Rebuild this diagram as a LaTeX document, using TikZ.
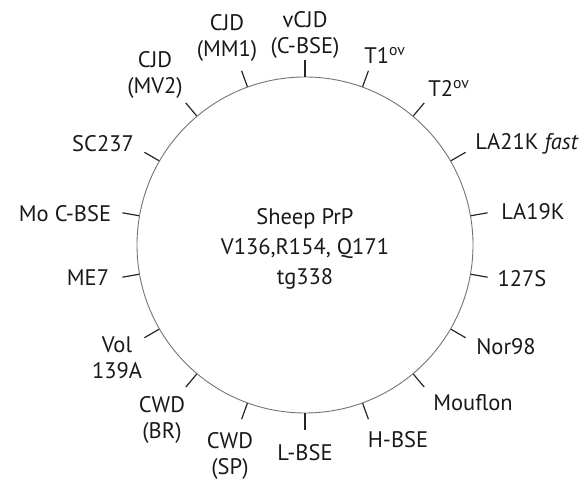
\documentclass[tikz,border=0pt]{standalone}
\usepackage{fontspec}
\setmainfont{PT Sans}
\begin{document}
\begin{tikzpicture}[x=1pt,y=1pt,
  lab/.style={font=\fontsize{22.5}{26}\selectfont, align=center, inner sep=0pt, text=black!90},
  tickline/.style={line width=1.2pt, draw=black!85},
  ring/.style={circle, draw=black!55, line width=0.9pt, minimum size=336pt, inner sep=0pt}]
\useasboundingbox (0,0) rectangle (584,484);
\node[ring] (c) at (305,239) {};
\foreach \a/\n in {90/a,70/b,50/c,30/d,10/e,-10/f,-30/g,-50/h,-70/i,-90/j,-110/k,-130/l,-150/m,-170/n,170/o,150/p,130/q,110/r}{
  \draw[tickline] (c.\a) -- ++(\a:17) coordinate (t\n);
}
\node[lab] (vcjd) at (305,449) {vCJD\\(C-BSE)};
\node[lab] (t1) at (385,429) {T1\textsuperscript{ov}};
\node[lab] (t2) at (449,396) {T2\textsuperscript{ov}};
\node[lab] (la21) at (527,340) {LA21K \textit{fast}};
\node[lab] (la19) at (533,272) {LA19K};
\node[lab] (s127) at (522,205) {127S};
\node[lab] (nor) at (506,137) {Nor98};
\node[lab] (mouf) at (473,81) {Mouflon};
\node[lab] (hbse) at (398,44) {H-BSE};
\node[lab] (lbse) at (305,31) {L-BSE};
\node[lab] (cwdsp) at (230,28) {CWD\\(SP)};
\node[lab] (cwdbr) at (162,64) {CWD\\(BR)};
\node[lab] (vol) at (117,126) {Vol\\139A};
\node[lab] (me7) at (88,206) {ME7};
\node[lab] (mocbse) at (65,270) {Mo C-BSE};
\node[lab] (sc) at (103,340) {SC237};
\node[lab] (mv2) at (155,409) {CJD\\(MV2)};
\node[lab] (mm1) at (227,446) {CJD\\(MM1)};
\node[font=\fontsize{22.5}{30}\selectfont, align=center, text=black!90] (title) at (305,235) {Sheep PrP\\V136,R154, Q171\\tg338};
\end{tikzpicture}
\end{document}
